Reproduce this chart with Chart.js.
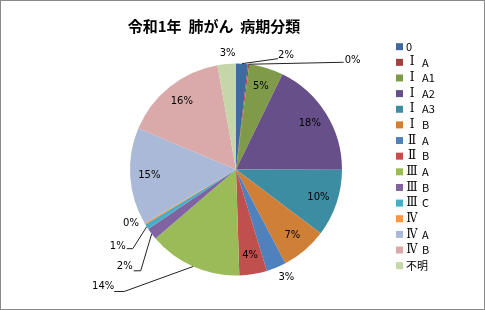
<!DOCTYPE html>
<html>
<head>
<meta charset="utf-8">
<script src="https://cdn.jsdelivr.net/npm/chart.js@4/dist/chart.umd.min.js"></script>
<style>
  html, body { margin: 0; padding: 0; background: #fff; }
  #wrap { position: relative; width: 485px; height: 310px; box-sizing: border-box; border: 1px solid #8a8a8a; background: #fff; }
  canvas { display: block; }
</style>
</head>
<body>
<div id="wrap"><canvas id="c" width="483" height="308"></canvas></div>
<script>
const titleText = '令和1年  肺がん  病期分類';
const categories = ['0', 'ⅠA', 'ⅠA1', 'ⅠA2', 'ⅠA3', 'ⅠB', 'ⅡA', 'ⅡB', 'ⅢA', 'ⅢB', 'ⅢC', 'Ⅳ', 'ⅣA', 'ⅣB', '不明'];
const values = [1.8, 0.2, 5.2, 17.8, 10.2, 7.0, 3.0, 4.2, 14.2, 1.8, 0.8, 0.2, 14.8, 15.8, 2.8];
const colors = ['#3E6A9F', '#A0413E', '#7F9A48', '#67508A', '#3C8CA2', '#D07F37',
                '#4F81BD', '#C0504D', '#9BBB59', '#8064A2', '#4BACC6', '#F79646',
                '#AAB9D7', '#D9AAA9', '#C5D6A9'];

// label layout (offsets from the slice's outer mid-point), style only
const outsideLabels = {
  0:  { dx: 44,  dy: -8,  line: [-8, 3] },
  1:  { dx: 104, dy: -4,  line: [-9, 2] },
  6:  { dx: 10,  dy: 10 },
  8:  { dx: -90, dy: 20,  line: [11, 5, 21, 5] },
  9:  { dx: -27, dy: 33,  line: [9, 4, 16, 4] },
  10: { dx: -29, dy: 20,  line: [9, 2, 15, 2] },
  11: { dx: -14, dy: 0 },
  14: { dx: 1,   dy: -11 }
};

const total = values.reduce((a, b) => a + b, 0);

function drawLegendText(ctx, text, x, y) {
  const m = text.match(/^([\u2160-\u216F]+)(.*)$/);
  if (!m) { ctx.fillText(text, x, y); return; }
  const num = m[1], rest = m[2];
  ctx.save();
  ctx.font = '12px "DejaVu Serif"';
  ctx.textAlign = 'center';
  const w = ctx.measureText(num).width;
  const target = Math.min(11, Math.max(w, 4));
  ctx.translate(x + 6, y);
  ctx.scale(target / w, 1);
  ctx.fillText(num, 0, 0);
  ctx.restore();
  if (rest) ctx.fillText(rest, x + 16, y);
}

const labelPlugin = {
  id: 'labels',
  afterDatasetsDraw(chart) {
    const ctx = chart.ctx;
    const meta = chart.getDatasetMeta(0);
    ctx.save();
    ctx.font = '10px "DejaVu Sans"';
    ctx.fillStyle = '#000';
    ctx.textAlign = 'center';
    ctx.textBaseline = 'middle';
    meta.data.forEach((arc, i) => {
      const p = arc.getProps(['x', 'y', 'startAngle', 'endAngle', 'outerRadius'], true);
      const mid = (p.startAngle + p.endAngle) / 2;
      const txt = Math.round(values[i] / total * 100) + '%';
      const o = outsideLabels[i];
      if (!o) {
        ctx.fillText(txt, p.x + Math.cos(mid) * p.outerRadius * 0.82, p.y + Math.sin(mid) * p.outerRadius * 0.82);
        return;
      }
      const ax = p.x + Math.cos(mid) * p.outerRadius;
      const ay = p.y + Math.sin(mid) * p.outerRadius;
      const lx = ax + o.dx, ly = ay + o.dy;
      if (o.line) {
        ctx.beginPath();
        ctx.strokeStyle = '#222';
        ctx.lineWidth = 1;
        ctx.moveTo(ax, ay);
        if (o.line.length === 4) ctx.lineTo(lx + o.line[2], ly + o.line[3]);
        ctx.lineTo(lx + o.line[0], ly + o.line[1]);
        ctx.stroke();
      }
      ctx.fillText(txt, lx, ly);
    });
    ctx.restore();
  },
  afterDraw(chart) {
    const ctx = chart.ctx;
    ctx.save();
    ctx.fillStyle = '#000';
    ctx.font = 'bold 15px "Noto Sans CJK JP"';
    ctx.textAlign = 'center';
    ctx.textBaseline = 'middle';
    ctx.fillText(titleText, 213, 25);
    ctx.font = '11px "Noto Sans CJK JP"';
    ctx.textAlign = 'left';
    categories.forEach((c, i) => {
      const y = 45.7 + i * 15.64;
      ctx.fillStyle = colors[i];
      ctx.fillRect(395, y - 3.5, 7, 7);
      ctx.fillStyle = '#000';
      drawLegendText(ctx, c, 405, y);
    });
    ctx.restore();
  }
};

new Chart(document.getElementById('c'), {
  type: 'pie',
  data: {
    labels: categories,
    datasets: [{ data: values, backgroundColor: colors, borderWidth: 0 }]
  },
  options: {
    responsive: false,
    animation: false,
    layout: { padding: { top: 62, bottom: 33, left: 129, right: 142 } },
    plugins: { legend: { display: false }, tooltip: { enabled: false }, title: { display: false } }
  },
  plugins: [labelPlugin]
});
</script>
</body>
</html>
